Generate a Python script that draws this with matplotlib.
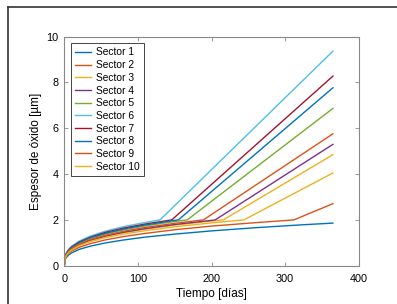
import matplotlib
matplotlib.use("Agg")
import matplotlib.pyplot as plt
from matplotlib.lines import Line2D

plt.rcParams['font.family'] = ['Liberation Sans', 'DejaVu Sans']

# tiempos comunes antes del cambio de pendiente
grid = [0, 1, 3, 6, 10, 20, 35, 55, 80, 110, 150, 200, 260, 320]

# sector 1: sin cambio de pendiente
s1_t = grid + [365]
s1_y = [0, 0.26, 0.37, 0.47, 0.56, 0.71, 0.85, 0.99, 1.12, 1.25, 1.38, 1.52, 1.66, 1.78, 1.86]

s2_t = grid[:13] + [312, 365]
s2_y = [0, 0.30, 0.43, 0.54, 0.64, 0.80, 0.96, 1.12, 1.27, 1.41, 1.57, 1.73, 1.88, 2.0, 2.71]

s3_t = grid[:12] + [216, 365]
s3_y = [0, 0.33, 0.48, 0.61, 0.72, 0.90, 1.09, 1.27, 1.43, 1.60, 1.77, 1.95, 2.0, 4.85]

s4_t = grid[:12] + [205, 365]
s4_y = [0, 0.34, 0.49, 0.62, 0.73, 0.92, 1.11, 1.29, 1.46, 1.62, 1.80, 1.98, 2.0, 5.30]

s5_t = grid[:11] + [167, 365]
s5_y = [0, 0.36, 0.52, 0.66, 0.78, 0.99, 1.19, 1.38, 1.56, 1.74, 1.93, 2.0, 6.87]

s6_t = grid[:10] + [130, 365]
s6_y = [0, 0.40, 0.57, 0.72, 0.85, 1.07, 1.29, 1.50, 1.70, 1.89, 2.0, 9.37]

s7_t = grid[:10] + [146, 365]
s7_y = [0, 0.38, 0.55, 0.69, 0.82, 1.03, 1.24, 1.45, 1.64, 1.82, 2.0, 8.28]

s8_t = grid[:11] + [155, 365]
s8_y = [0, 0.37, 0.54, 0.68, 0.80, 1.01, 1.22, 1.41, 1.60, 1.78, 1.98, 2.0, 7.77]

s9_t = grid[:11] + [189, 365]
s9_y = [0, 0.35, 0.50, 0.63, 0.75, 0.94, 1.14, 1.32, 1.50, 1.67, 1.85, 2.0, 5.76]

s10_t = grid[:12] + [244, 365]
s10_y = [0, 0.32, 0.46, 0.58, 0.69, 0.87, 1.05, 1.22, 1.38, 1.53, 1.70, 1.87, 2.0, 4.05]

series = [(s1_t, s1_y), (s2_t, s2_y), (s3_t, s3_y), (s4_t, s4_y), (s5_t, s5_y),
          (s6_t, s6_y), (s7_t, s7_y), (s8_t, s8_y), (s9_t, s9_y), (s10_t, s10_y)]
labels = ['Sector %d' % i for i in range(1, 11)]
colors = ['#0072BD', '#D95319', '#EDB120', '#7E2F8E', '#77AC30',
          '#4DBEEE', '#A2142F', '#0072BD', '#D95319', '#EDB120']

fig = plt.figure(figsize=(3.97, 3.04), dpi=100)
ax = fig.add_axes([64.3 / 397, 1 - 265.7 / 304, 294.4 / 397, 229 / 304])

for (t, y), lab, c in zip(series, labels, colors):
    ax.plot(t, y, color=c, lw=1.0, label=lab)

ax.set_xlim(0, 400)
ax.set_ylim(0, 10)
ax.set_xticks([0, 100, 200, 300, 400])
ax.set_yticks([0, 2, 4, 6, 8, 10])
ax.tick_params(direction='in', length=3, width=0.6, color='#888888',
               top=True, right=True, labelsize=7.8)
ax.tick_params(axis='x', pad=6)
ax.tick_params(axis='y', pad=4)
for sp in ax.spines.values():
    sp.set_color('#888888')
    sp.set_linewidth(0.8)

ax.set_xlabel('Tiempo [días]', fontsize=8.5, labelpad=3)
ax.set_ylabel('Espesor de óxido [µm]', fontsize=8.5, labelpad=3)

leg = ax.legend(loc='upper left', fontsize=7.4, frameon=True, fancybox=False,
                edgecolor='#444444', framealpha=1, labelspacing=0.26,
                handlelength=1.5, handletextpad=0.5, borderpad=0.4,
                borderaxespad=0.65)
leg.get_frame().set_linewidth(0.7)

# marco exterior de la figura
fig.add_artist(Line2D([7.5 / 397, 1], [1 - 6.5 / 304, 1 - 6.5 / 304],
                      color='#333333', lw=1.2, transform=fig.transFigure))
fig.add_artist(Line2D([7.5 / 397, 7.5 / 397], [0, 1 - 6.5 / 304],
                      color='#333333', lw=1.2, transform=fig.transFigure))

fig.savefig('out.png', dpi=100)
